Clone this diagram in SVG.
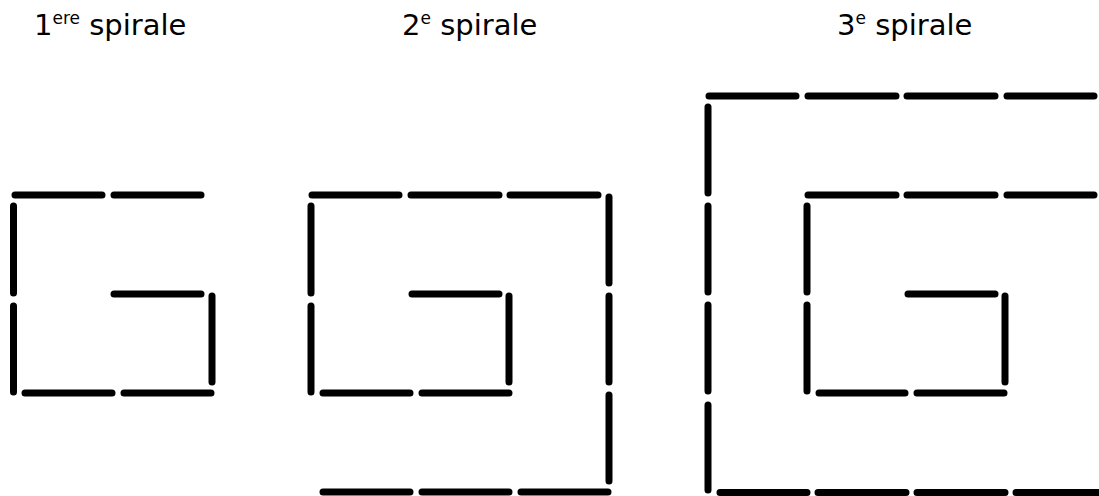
<svg xmlns="http://www.w3.org/2000/svg" width="1099" height="496" viewBox="0 0 1099 496">
<style>
.s{stroke:#000;stroke-width:7;stroke-linecap:round;fill:none}
.t{font-family:"DejaVu Sans","Verdana",sans-serif;font-size:29px;fill:#000}
.sup{font-size:17px}
</style>
<rect width="1099" height="496" fill="#fff"/>
<g id="labels">
<text class="t" x="34" y="35">1<tspan class="sup" dy="-11">ere</tspan><tspan dy="11"> spirale</tspan></text>
<text class="t" x="402" y="35">2<tspan class="sup" dy="-11">e</tspan><tspan dy="11"> spirale</tspan></text>
<text class="t" x="837" y="35">3<tspan class="sup" dy="-11">e</tspan><tspan dy="11"> spirale</tspan></text>
</g>
<g id="spirale1" class="s">
<path d="M15 195H102M114 195H201"/>
<path d="M13.5 206V293M13.5 306V392"/>
<path d="M114 294H201"/>
<path d="M212 296V382"/>
<path d="M25 393H112M124 393H211"/>
</g>
<g id="spirale2" class="s">
<path d="M312 195H399M411 195H499M510 195H598"/>
<path d="M311 206V293M311 306V392"/>
<path d="M412 294H499"/>
<path d="M509 296V382"/>
<path d="M323 393H410M422 393H509"/>
<path d="M609 197V283M609 296V382M609 395V481"/>
<path d="M323 492H410M422 492H509M521 492H608"/>
</g>
<g id="spirale3" class="s">
<path d="M709 96H796M808 96H896M907 96H995M1007 96H1094"/>
<path d="M708 107V193M708 206V292M708 305V391M708 405V490"/>
<path d="M808 195H896M907 195H995M1007 195H1094"/>
<path d="M807 206V292M807 305V391"/>
<path d="M908 294H995"/>
<path d="M1005 296V382"/>
<path d="M819 393H905M917 393H1004"/>
<path d="M720 492.5H807M818 492.5H906M917 492.5H1005M1016 492.5H1110"/>
</g>
</svg>
